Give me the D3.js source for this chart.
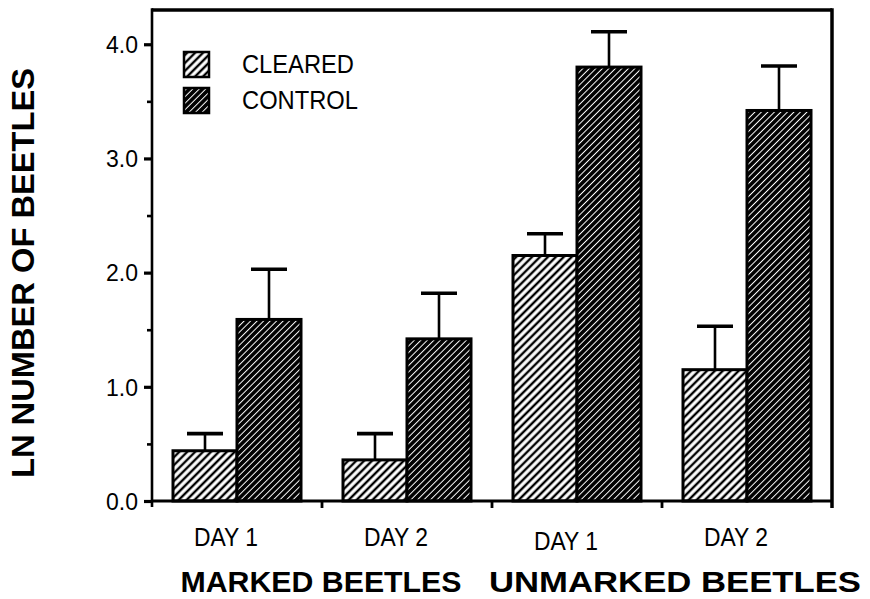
<!DOCTYPE html>
<html>
<head>
<meta charset="utf-8">
<script src="https://cdn.jsdelivr.net/npm/d3@7"></script>
<style>
  html, body { margin: 0; padding: 0; background: #fff; }
  svg { display: block; }
  text { font-family: "Liberation Sans", Arial, Helvetica, sans-serif; fill: #000; }
</style>
</head>
<body>
<svg id="chart" width="870" height="599"></svg>
<script>
// ---- data ----
const categories = ["DAY 1", "DAY 2", "DAY 1", "DAY 2"];
const groupLabels = ["MARKED BEETLES", "UNMARKED BEETLES"];
const seriesNames = ["CLEARED", "CONTROL"];
const clearedValues = [0.44, 0.36, 2.15, 1.15];
const clearedErrors = [0.15, 0.23, 0.19, 0.38];
const controlValues = [1.59, 1.42, 3.80, 3.42];
const controlErrors = [0.44, 0.40, 0.31, 0.39];
const yMajorTicks = [0, 1, 2, 3, 4];
const yMinorTicks = [0.5, 1.5, 2.5, 3.5];
const yTitle = "LN NUMBER OF BEETLES";

// ---- layout ----
const svg = d3.select("#chart");
const pLeft = 152, pRight = 832, pTop = 10, pBottom = 501;

const y = d3.scaleLinear().domain([0, 4.3]).range([pBottom, pTop]);
const x0 = d3.scaleBand().domain(d3.range(categories.length)).range([pLeft, pRight]).padding(0);
const x1 = d3.scaleBand().domain(seriesNames).range([21, x0.bandwidth() - 21]).padding(0);

// patterns
const defs = svg.append("defs");
const pc = defs.append("pattern").attr("id", "hatchCleared")
  .attr("patternUnits", "userSpaceOnUse").attr("width", 5.6).attr("height", 5.6)
  .attr("patternTransform", "rotate(45)");
pc.append("rect").attr("width", 5.6).attr("height", 5.6).attr("fill", "#fff");
pc.append("line").attr("x1", 2.8).attr("y1", 0).attr("x2", 2.8).attr("y2", 5.6)
  .attr("stroke", "#000").attr("stroke-width", 2.4);

const pk = defs.append("pattern").attr("id", "hatchControl")
  .attr("patternUnits", "userSpaceOnUse").attr("width", 4.6).attr("height", 4.6)
  .attr("patternTransform", "rotate(45)");
pk.append("rect").attr("width", 4.6).attr("height", 4.6).attr("fill", "#000");
pk.append("line").attr("x1", 2.3).attr("y1", 0).attr("x2", 2.3).attr("y2", 4.6)
  .attr("stroke", "#fff").attr("stroke-width", 1.0);

const fills = { CLEARED: "url(#hatchCleared)", CONTROL: "url(#hatchControl)" };

const rows = categories.map((c, i) => ({
  i, c,
  vals: [
    { s: "CLEARED", v: clearedValues[i], e: clearedErrors[i] },
    { s: "CONTROL", v: controlValues[i], e: controlErrors[i] }
  ]
}));

// bars
const g = svg.append("g");
const grp = g.selectAll("g.grp").data(rows).join("g")
  .attr("class", "grp").attr("transform", d => `translate(${x0(d.i)},0)`);

grp.selectAll("rect").data(d => d.vals).join("rect")
  .attr("x", d => x1(d.s)).attr("width", x1.bandwidth())
  .attr("y", d => y(d.v)).attr("height", d => y(0) - y(d.v))
  .attr("fill", d => fills[d.s]).attr("stroke", "#000").attr("stroke-width", 3);

// error bars
grp.selectAll("line.err").data(d => d.vals).join("line").attr("class", "err")
  .attr("x1", d => x1(d.s) + x1.bandwidth() / 2).attr("x2", d => x1(d.s) + x1.bandwidth() / 2)
  .attr("y1", d => y(d.v)).attr("y2", d => y(d.v + d.e))
  .attr("stroke", "#000").attr("stroke-width", 2.6);
grp.selectAll("line.cap").data(d => d.vals).join("line").attr("class", "cap")
  .attr("x1", d => x1(d.s) + x1.bandwidth() / 2 - 18).attr("x2", d => x1(d.s) + x1.bandwidth() / 2 + 18)
  .attr("y1", d => y(d.v + d.e)).attr("y2", d => y(d.v + d.e))
  .attr("stroke", "#000").attr("stroke-width", 3.6);

// frame
svg.append("line").attr("x1", pLeft).attr("x2", pRight).attr("y1", pTop).attr("y2", pTop)
  .attr("stroke", "#000").attr("stroke-width", 3.5);
svg.append("line").attr("x1", pRight).attr("x2", pRight).attr("y1", pTop - 1.75).attr("y2", pBottom + 7)
  .attr("stroke", "#000").attr("stroke-width", 3.5);
svg.append("line").attr("x1", pLeft).attr("x2", pRight).attr("y1", pBottom).attr("y2", pBottom)
  .attr("stroke", "#000").attr("stroke-width", 3);
svg.append("line").attr("x1", pLeft).attr("x2", pLeft).attr("y1", pTop - 1.75).attr("y2", pBottom + 6)
  .attr("stroke", "#000").attr("stroke-width", 2.6);

// y axis ticks
const yAxis = d3.axisLeft(y).tickValues(yMajorTicks).tickFormat(d3.format(".1f"))
  .tickSize(8).tickPadding(6);
const ya = svg.append("g").attr("transform", `translate(${pLeft},0)`).call(yAxis);
ya.select(".domain").remove();
ya.selectAll(".tick line").attr("stroke", "#000").attr("stroke-width", 3.2);
ya.selectAll(".tick text").style("font-size", "23px").attr("dy", "0.36em");

const yMinor = d3.axisLeft(y).tickValues(yMinorTicks).tickFormat("").tickSize(5);
const ym = svg.append("g").attr("transform", `translate(${pLeft},0)`).call(yMinor);
ym.select(".domain").remove();
ym.selectAll(".tick line").attr("stroke", "#000").attr("stroke-width", 2.6);

// x separator ticks (band boundaries)
svg.append("g").selectAll("line").data(d3.range(1, categories.length)).join("line")
  .attr("x1", d => x0(d)).attr("x2", d => x0(d))
  .attr("y1", pBottom).attr("y2", pBottom + 7)
  .attr("stroke", "#000").attr("stroke-width", 2.8);

// category labels
svg.append("g").selectAll("text").data(categories).join("text")
  .attr("x", (d, i) => x0(i) + x0.bandwidth() / 2 - 11)
  .attr("y", (d, i) => i === 2 ? 550 : 546)
  .attr("text-anchor", "middle").style("font-size", "26px")
  .attr("textLength", 64).attr("lengthAdjust", "spacingAndGlyphs")
  .text(d => d);

// group labels
svg.append("g").selectAll("text").data(groupLabels).join("text")
  .attr("x", (d, i) => i === 0 ? 321 : 675)
  .attr("y", 592)
  .attr("text-anchor", "middle").style("font-size", "29px").style("font-weight", "bold")
  .attr("textLength", (d, i) => i === 0 ? 281 : 372).attr("lengthAdjust", "spacingAndGlyphs")
  .text(d => d);

// y title
svg.append("text")
  .attr("transform", "translate(34,273) rotate(-90)")
  .attr("text-anchor", "middle").style("font-size", "31px").style("font-weight", "bold")
  .attr("textLength", 410).attr("lengthAdjust", "spacingAndGlyphs")
  .text(yTitle);

// legend
const lg = svg.append("g").selectAll("g").data(seriesNames).join("g")
  .attr("transform", (d, i) => `translate(184,${52 + i * 36})`);
lg.append("rect").attr("width", 25).attr("height", 25)
  .attr("fill", d => fills[d]).attr("stroke", "#000").attr("stroke-width", 2.5);
lg.append("text").attr("x", 58).attr("y", 21).style("font-size", "26px")
  .attr("textLength", (d, i) => i === 0 ? 112 : 116).attr("lengthAdjust", "spacingAndGlyphs")
  .text(d => d);
</script>
</body>
</html>
